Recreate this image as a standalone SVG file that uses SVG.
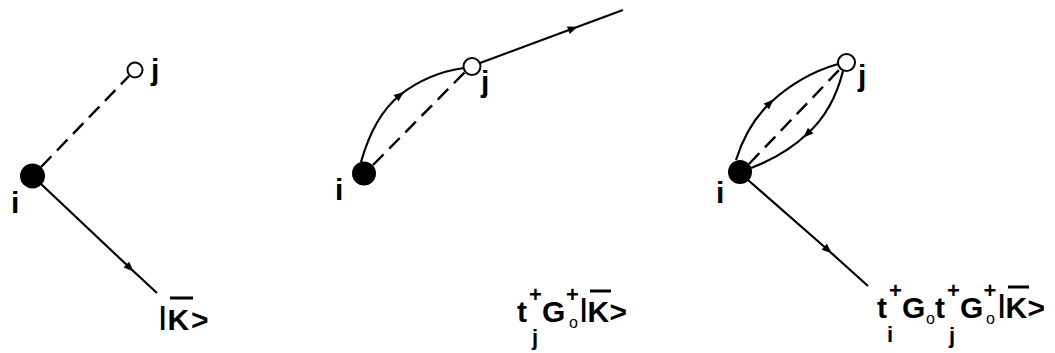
<svg xmlns="http://www.w3.org/2000/svg" width="1055" height="353" viewBox="0 0 1055 353">
<style>
  .ln{fill:none;stroke:#000;stroke-width:2.2}
  .ds{fill:none;stroke:#000;stroke-width:2.4;stroke-dasharray:15 8}
  .ar{marker-mid:url(#mid)}
  .fi{fill:#000}
  .op{fill:#fff;stroke:#000;stroke-width:2}
  .t{font-family:"Liberation Sans",Arial,sans-serif;font-weight:bold;fill:#000}
  .lb{font-size:30px}
  .sup{font-size:22px}
  .sub{font-size:22px}
  .nought{font-family:"Liberation Sans",Arial,sans-serif;font-weight:normal;font-size:16px}
  .bar{font-size:26px}
  .ob{stroke:#000;stroke-width:3}
</style>
<defs>
  <marker id="mid" viewBox="0 0 10 8" refX="5" refY="4" markerWidth="13" markerHeight="8" markerUnits="userSpaceOnUse" orient="auto">
    <path d="M0,0 L10,4 L0,8 z" fill="#000"/>
  </marker>
</defs>

<g id="connectors">
  <path class="ds" d="M41,167 L129,76"/>
  <path class="ln ar" d="M41,184 L130,268 L157,293"/>
  <path class="ds" d="M373,165 L465,72"/>
  <path class="ln ar" d="M361,162 Q374,116 400,95 Q428,73 464,68"/>
  <path class="ln ar" d="M480,63 L573,28.5 L623,10"/>
  <path class="ds" d="M749,164 L840,69"/>
  <path class="ln ar" d="M736,160 Q747,125 770,103 Q800,75 838,64"/>
  <path class="ln ar" d="M843,71 Q833,111 807,134 Q785,155 751,168"/>
  <path class="ln ar" d="M748,180 L828,250 L868,286"/>
</g>

<g id="node-p1-i">
  <circle class="fi" cx="32.5" cy="176" r="12.5"/>
  <text class="t lb" x="11" y="213">i</text>
</g>
<g id="node-p1-j">
  <circle class="op" cx="135" cy="70" r="7.5"/>
  <text class="t lb" x="151" y="80">j</text>
</g>
<g id="label-p1">
  <text class="t lb"><tspan class="bar" x="159" y="325">|</tspan><tspan x="167.5" y="330">K</tspan><tspan x="191" y="330">&gt;</tspan></text>
  <line class="ob" x1="170" y1="298" x2="193" y2="298"/>
</g>

<g id="node-p2-i">
  <circle class="fi" cx="364" cy="173.5" r="12"/>
  <text class="t lb" x="335" y="200">i</text>
</g>
<g id="node-p2-j">
  <circle class="op" cx="472" cy="66.5" r="8.5"/>
  <text class="t lb" x="481" y="92">j</text>
</g>
<g id="label-p2">
  <text class="t lb"><tspan x="517" y="322">t</tspan><tspan class="sup" x="529" y="302">+</tspan><tspan class="sub" x="532" y="345">j</tspan><tspan x="542" y="322">G</tspan><tspan class="sup" x="566" y="302">+</tspan><tspan class="nought" x="569" y="328">o</tspan><tspan class="bar" x="580" y="317">|</tspan><tspan x="587.5" y="322">K</tspan><tspan x="609.5" y="322">&gt;</tspan></text>
  <line class="ob" x1="590" y1="291" x2="611" y2="291"/>
</g>

<g id="node-p3-i">
  <circle class="fi" cx="740" cy="172" r="12"/>
  <text class="t lb" x="716" y="203">i</text>
</g>
<g id="node-p3-j">
  <circle class="op" cx="846.5" cy="62.5" r="8.5"/>
  <text class="t lb" x="858" y="86">j</text>
</g>
<g id="label-p3">
  <text class="t lb"><tspan x="877" y="318">t</tspan><tspan class="sup" x="889" y="298">+</tspan><tspan class="sub" x="887" y="342">i</tspan><tspan x="902" y="318">G</tspan><tspan class="nought" x="926" y="324">o</tspan><tspan x="935" y="318">t</tspan><tspan class="sup" x="947" y="298">+</tspan><tspan class="sub" x="949" y="343">j</tspan><tspan x="960" y="318">G</tspan><tspan class="sup" x="983.5" y="298">+</tspan><tspan class="nought" x="986" y="324">o</tspan><tspan class="bar" x="998" y="313">|</tspan><tspan x="1005.5" y="318">K</tspan><tspan x="1027.5" y="318">&gt;</tspan></text>
  <line class="ob" x1="1008" y1="287" x2="1029" y2="287"/>
</g>
</svg>
